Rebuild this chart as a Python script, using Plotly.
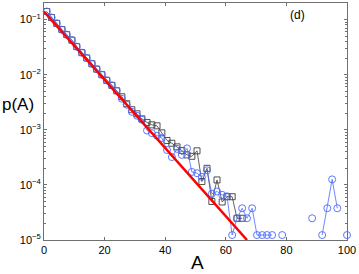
import plotly.graph_objects as go

# Bin centres (A)
A = [0.9, 2.5, 4.2, 5.9, 7.5, 9.2, 10.8, 12.5, 14.1, 15.8, 17.4, 19.1, 20.7, 22.4, 24.0,
     25.7, 27.3, 29.0, 30.7, 32.3, 34.0, 35.6, 37.3, 38.9, 40.6, 42.2, 43.9, 45.5, 47.2, 48.8,
     50.5, 52.1, 53.8, 55.4, 57.1, 58.8, 60.4, 62.1, 63.7, 65.4, 67.0, 68.7, 70.3, 72.0, 73.6,
     75.3, 76.9, 78.6, 80.2, 81.9, 83.5, 85.2, 86.9, 88.5, 90.2, 91.8, 93.5, 95.1, 96.8, 98.4,
     100.0]

# Blue circles series p(A)
p_circles = [0.140, 0.109, 0.0853, 0.0658, 0.0533, 0.0424, 0.0323, 0.0251, 0.0201, 0.0158,
             0.0126, 0.0100, 0.0079, 0.0064, 0.0051,
             3.66e-3, 2.85e-3, 2.12e-3, 1.80e-3, 1.52e-3,
             9.7e-4, 8.7e-4, 7.8e-4, 7.1e-4, 4.3e-4,
             3.2e-4, 4.5e-4, 3.5e-4, 4.6e-4, 1.72e-4,
             1.63e-4, 1.40e-4, 1.84e-4, 6.9e-5, 7.6e-5,
             6.6e-5, 6.2e-5, 1.23e-5, 2.48e-5, 3.77e-5,
             2.48e-5, 3.77e-5, 1.23e-5, 1.23e-5, 1.23e-5,
             1.23e-5, None, 1.23e-5, None, None,
             None, None, None, 2.48e-5, None,
             1.23e-5, 3.77e-5, 1.26e-4, 3.77e-5, None,
             1.23e-5]

# Black squares series p(A)
p_squares = [0.140, 0.109, 0.0853, 0.0658, 0.0533, 0.0424, 0.0323, 0.0251, 0.0201, 0.0158,
             0.0126, 0.0100, 0.0079, 0.0064, 0.0051,
             3.98e-3, 2.97e-3, 2.31e-3, 1.95e-3, 1.58e-3,
             1.36e-3, 1.23e-3, 1.18e-3, 8.8e-4, 6.4e-4,
             5.7e-4, 4.9e-4, 4.2e-4, 3.5e-4, 3.3e-4,
             4.15e-4, 1.15e-4, 2.0e-4, 5.0e-5, 1.23e-4,
             4.9e-5, 6.1e-5, 6.1e-5, 2.48e-5, 2.48e-5]

# Exponential fit line (straight on log scale)
fit_A = [0, 67]
fit_p = [0.14, 1e-5]

y_tickvals = [1e-5, 1e-4, 1e-3, 1e-2, 1e-1]
y_ticktext = ["10<sup>−5</sup>", "10<sup>−4</sup>", "10<sup>−3</sup>", "10<sup>−2</sup>", "10<sup>−1</sup>"]
x_tickvals = [0, 20, 40, 60, 80, 100]

minor_y = []
for e in range(-5, 0):
    for m in range(2, 10):
        v = m * 10 ** e
        if v < 0.2:
            minor_y.append(v)

fig = go.Figure()
fig.add_trace(go.Scatter(
    x=A[:len(p_squares)], y=p_squares, mode="lines+markers",
    line=dict(color="#3c3c3c", width=0.8),
    marker=dict(symbol="square-open", size=6, color="#3c3c3c", line=dict(width=0.9)),
    connectgaps=False, cliponaxis=False, showlegend=False))
fig.add_trace(go.Scatter(
    x=A, y=p_circles, mode="lines+markers",
    line=dict(color="#4a6aff", width=0.8),
    marker=dict(symbol="circle-open", size=7, color="#4a6aff", line=dict(width=0.9)),
    connectgaps=False, cliponaxis=False, showlegend=False))
fig.add_trace(go.Scatter(
    x=fit_A, y=fit_p, mode="lines",
    line=dict(color="#ff0000", width=2.5), showlegend=False))

axis_col = "#707070"
fig.update_xaxes(range=[0, 100], tickvals=x_tickvals, ticks="inside", ticklen=3,
                 showline=True, linecolor=axis_col, linewidth=1, mirror="ticks",
                 tickcolor=axis_col, showgrid=False, zeroline=False, automargin=False,
                 tickfont=dict(size=11, color="#000"))
fig.update_yaxes(type="log", range=[-5, -0.699], tickvals=y_tickvals, ticktext=y_ticktext,
                 ticks="inside", ticklen=3, showline=True, linecolor=axis_col, linewidth=1,
                 mirror="ticks", tickcolor=axis_col, showgrid=False, zeroline=False,
                 automargin=False, tickfont=dict(size=11, color="#000"),
                 minor=dict(tickvals=minor_y, ticks="inside", ticklen=2, tickcolor=axis_col))

L, R, T, B = 44, 12, 3, 34
W, H = 359, 274
PW, PH = W - L - R, H - T - B


def px(xp):
    return (xp - L) / PW


def py(yp):
    return (H - B - yp) / PH


def note(text, x, y, size):
    return dict(text=text, x=px(x), y=py(y), xref="paper", yref="paper", showarrow=False,
                xanchor="center", yanchor="middle", font=dict(size=size))


fig.update_layout(
    width=W, height=H,
    margin=dict(l=L, r=R, t=T, b=B, autoexpand=False),
    paper_bgcolor="white", plot_bgcolor="white",
    font=dict(family="Liberation Sans, Arial, sans-serif", color="#000"),
    annotations=[
        note("p(A)", 18, 105, 17),
        note("A", 197, 262, 19),
        note("(d)", 297, 15, 12),
    ],
)

fig.write_html("out.html", config={"displayModeBar": False},
               post_script="document.body.style.margin='0';document.body.style.overflow='hidden';")
